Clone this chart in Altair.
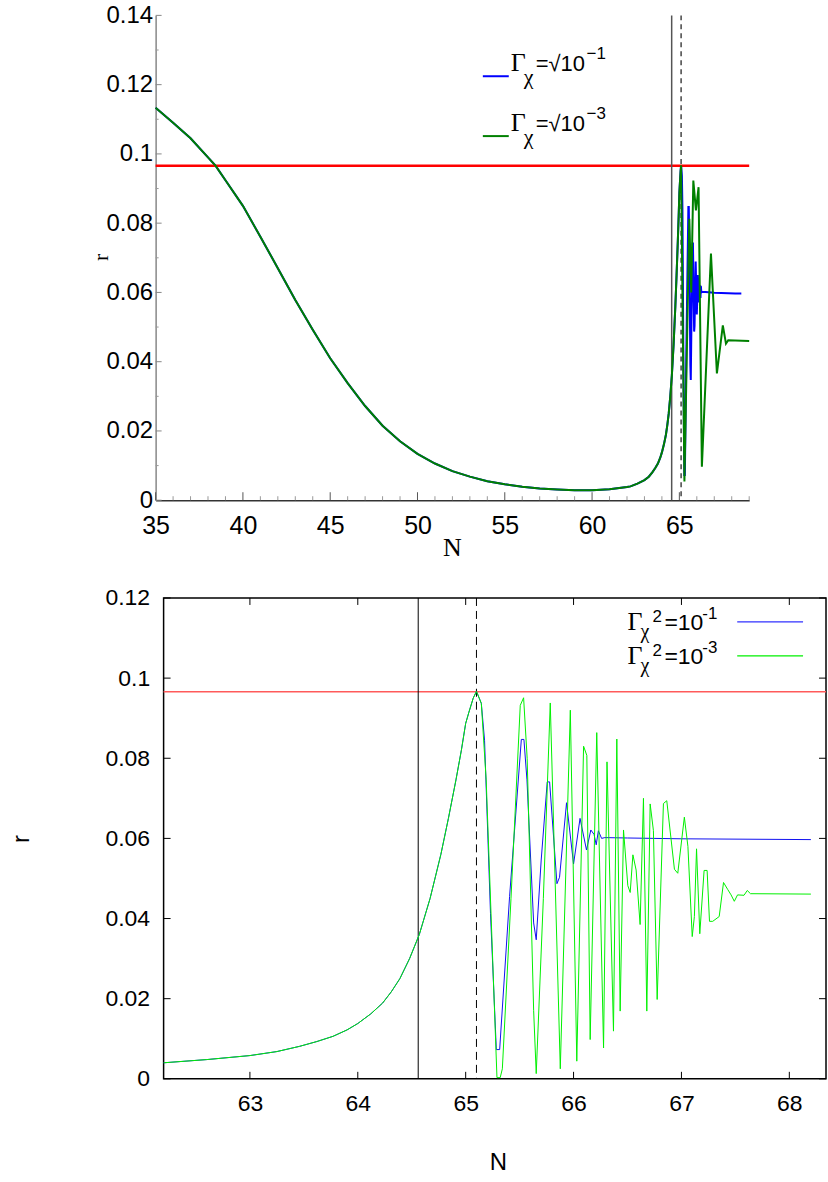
import altair as alt
import pandas as pd

# ---------------- data ----------------
early_N = [35, 36, 37, 38, 38.43, 39, 40, 41, 42, 43, 44, 45, 46, 47, 48, 49, 50,
           51, 52, 53, 54, 55, 56, 57, 58, 59, 60, 61, 62]
early_r = [0.1133, 0.1090, 0.1045, 0.0990, 0.0966, 0.0924, 0.0850, 0.0761, 0.0670,
           0.0578, 0.0492, 0.0410, 0.0338, 0.0272, 0.0215, 0.0170, 0.0134, 0.0106,
           0.0084, 0.0068, 0.0055, 0.0046, 0.0039, 0.0034, 0.0031, 0.0029, 0.0029,
           0.0032, 0.0038]

rise_N = [62.2, 62.6, 63.0, 63.25, 63.46, 63.62, 63.77, 63.9, 64.0, 64.12, 64.23, 64.31,
          64.39, 64.48, 64.57, 64.67, 64.77, 64.84, 64.91, 64.96, 65.0, 65.03, 65.07, 65.1]
rise_r = [0.0040, 0.0048, 0.0058, 0.0068, 0.0081, 0.0093, 0.0106, 0.0122, 0.0138, 0.0162,
          0.0189, 0.0217, 0.0250, 0.0300, 0.0360, 0.0450, 0.0560, 0.0650, 0.0746, 0.0820,
          0.0887, 0.0915, 0.0950, 0.0967]

blue_N = [65.145, 65.175, 65.23, 65.284, 65.315, 65.407, 65.516, 65.54, 65.568, 65.63,
          65.654, 65.70, 65.756, 65.778, 65.846, 65.87, 65.935, 66.0, 66.06, 66.12,
          66.16, 66.19, 66.21, 66.23, 66.26, 66.29, 66.5, 67.0, 68.2]
blue_r = [0.0937, 0.0845, 0.0413, 0.0073, 0.0073, 0.0455, 0.0847, 0.0847, 0.0746, 0.0389,
          0.0347, 0.0546, 0.0741, 0.0741, 0.0487, 0.0503, 0.0689, 0.0536, 0.0650, 0.0571,
          0.0621, 0.0610, 0.0584, 0.0619, 0.0600, 0.0602, 0.0601, 0.0599, 0.0597]

green_N = [65.145, 65.19, 65.29, 65.32, 65.34, 65.42, 65.506, 65.537, 65.57, 65.63,
           65.654, 65.72, 65.784, 65.877, 65.97, 66.03, 66.093, 66.123, 66.154, 66.215,
           66.278, 66.31, 66.37, 66.401, 66.432, 66.463, 66.503, 66.525, 66.55, 66.58,
           66.617, 66.648, 66.679, 66.71, 66.74, 66.775, 66.833, 66.864, 66.935, 66.966,
           67.027, 67.06, 67.1, 67.12, 67.14, 67.17, 67.21, 67.238, 67.26, 67.29,
           67.35, 67.39, 67.43, 67.46, 67.49, 67.52, 67.58, 67.61, 67.64, 68.2]
green_r = [0.0937, 0.0746, 0.0003, 0.0003, 0.0025, 0.0450, 0.0932, 0.0951, 0.0800, 0.0170,
           0.0013, 0.0450, 0.0938, 0.0025, 0.0920, 0.0044, 0.0830, 0.0807, 0.0098, 0.0864,
           0.0077, 0.0791, 0.0119, 0.0848, 0.0169, 0.0621, 0.0482, 0.0465, 0.0559, 0.0521,
           0.0385, 0.0700, 0.0169, 0.0686, 0.0620, 0.0198, 0.0687, 0.0694, 0.0523, 0.0513,
           0.0653, 0.0580, 0.0355, 0.0405, 0.0574, 0.0362, 0.0520, 0.0520, 0.0393, 0.0393,
           0.0405, 0.0490, 0.0472, 0.0459, 0.0443, 0.0459, 0.0458, 0.0470, 0.0462, 0.0461]

# top panel: coarser green run
top_green_N = [65.29, 65.57, 65.68, 65.80, 65.95, 66.10, 66.29, 66.81, 67.15, 67.49,
               67.67, 67.8, 69.0]
top_green_r = [0.0054, 0.0813, 0.0600, 0.0923, 0.0837, 0.0904, 0.0097, 0.0712, 0.0366,
               0.0505, 0.0452, 0.0462, 0.0460]
tail_blue_N, tail_blue_r = 68.55, 0.0597     # top panel only

r_ref = 0.0966
N_solid = 64.56
N_dashed = 65.1

top_y_major = [0, 0.02, 0.04, 0.06, 0.08, 0.10, 0.12, 0.14]
top_y_minor = [0.01, 0.03, 0.05, 0.07, 0.09, 0.11, 0.13]
top_x_major = [35, 40, 45, 50, 55, 60, 65]
top_x_minor = [n for n in range(36, 70) if n % 5 != 0]
bot_y_ticks = [0, 0.02, 0.04, 0.06, 0.08, 0.10, 0.12]
bot_x_ticks = [63, 64, 65, 66, 67, 68]

# ---------------- tables ----------------
top_blue = pd.DataFrame({"N": early_N + rise_N + blue_N + [tail_blue_N],
                         "r": early_r + rise_r + blue_r + [tail_blue_r]})
top_green = pd.DataFrame({"N": early_N + rise_N + top_green_N,
                          "r": early_r + rise_r + top_green_r})
bot_blue = pd.DataFrame({"N": rise_N + blue_N, "r": rise_r + blue_r})
bot_green = pd.DataFrame({"N": rise_N + green_N, "r": rise_r + green_r})
dummy = pd.DataFrame({"N": [0]})

SANS = "Liberation Sans, Arial, sans-serif"
SERIF = "Liberation Serif, Times New Roman, serif"
RFMT = "datum.value == 0 ? '0' : format(datum.value, '.2~f')"


def txt(s, x, y, size, font):
    return alt.Chart(dummy).mark_text(text=s, font=font, fontSize=size, align="left",
                                      baseline="alphabetic", color="black").encode(
        x=alt.value(x), y=alt.value(y))


def seg(x1, x2, y, color, w):
    return alt.Chart(dummy).mark_rule(color=color, strokeWidth=w).encode(
        x=alt.value(x1), x2=alt.value(x2), y=alt.value(y))


# ---------------- top panel ----------------
TW, TH = 595, 486
tx = alt.Scale(domain=[35, 69], range=[-8, TW - 8], nice=False, zero=False)
ty = alt.Scale(domain=[0, 0.14], nice=False)
tx_axis = alt.Axis(
    values=top_x_major, ticks=False, tickSize=0, grid=False, domainColor="#333333",
    domainWidth=1.5, labelFont=SANS, labelFontSize=25, labelColor="black",
    labelPadding=13, labelFlush=False, title="N", titleFont=SERIF, titleFontSize=26,
    titleFontWeight="normal", titleX=289, titleY=47, titleBaseline="middle",
    titleAlign="center", titleColor="black")
ty_axis = alt.Axis(
    values=top_y_major, labelExpr=RFMT, ticks=False, tickSize=0, grid=False,
    domainColor="#888888", domainWidth=1.5, offset=8, labelFont=SANS,
    labelFontSize=24, labelColor="black", labelPadding=3, labelFlush=False,
    title="r", titleFont=SERIF, titleFontSize=22, titleFontWeight="normal",
    titleX=-55, titleY=242, titleBaseline="middle", titleAlign="center",
    titleAngle=270, titleColor="black")
TX = dict(scale=tx, axis=tx_axis)
TY = dict(scale=ty, axis=ty_axis)

t_blue = alt.Chart(top_blue).mark_line(color="#0000ff", strokeWidth=2).encode(
    x=alt.X("N:Q", **TX), y=alt.Y("r:Q", **TY), order="N:Q")
t_green = alt.Chart(top_green).mark_line(color="#008000", strokeWidth=2).encode(
    x=alt.X("N:Q", **TX), y=alt.Y("r:Q", **TY), order="N:Q")
t_red = alt.Chart(dummy).mark_rule(color="#ff0000", strokeWidth=2.5).encode(
    x=alt.datum(35, **TX), x2=alt.datum(69), y=alt.datum(r_ref, **TY))
t_vs = alt.Chart(pd.DataFrame({"N": [N_solid]})).mark_rule(
    color="#555555", strokeWidth=1.5).encode(
    x=alt.X("N:Q", **TX), y=alt.value(0), y2=alt.value(TH))
t_vd = alt.Chart(pd.DataFrame({"N": [N_dashed]})).mark_rule(
    color="#444444", strokeWidth=1.5, strokeDash=[5, 4]).encode(
    x=alt.X("N:Q", **TX), y=alt.value(0), y2=alt.value(TH))

t_ticks = [
    alt.Chart(pd.DataFrame({"r": top_y_major})).mark_rule(color="#888888").encode(
        y=alt.Y("r:Q", **TY), x=alt.value(-8), x2=alt.value(-2)),
    alt.Chart(pd.DataFrame({"r": top_y_minor})).mark_rule(color="#999999").encode(
        y=alt.Y("r:Q", **TY), x=alt.value(-8), x2=alt.value(-5)),
    alt.Chart(pd.DataFrame({"N": top_x_major})).mark_rule(color="#555555").encode(
        x=alt.X("N:Q", **TX), y=alt.value(TH - 8), y2=alt.value(TH)),
    alt.Chart(pd.DataFrame({"N": top_x_minor})).mark_rule(color="#999999").encode(
        x=alt.X("N:Q", **TX), y=alt.value(TH - 4), y2=alt.value(TH)),
]

t_legend = [
    seg(320, 346, 61, "#0000ff", 2),
    txt("Γ", 348, 56, 26, SERIF), txt("χ", 361, 69, 22, SERIF),
    txt("=√10", 373, 56, 22, SANS), txt("−1", 424, 44, 17, SANS),
    seg(320, 346, 121, "#008000", 2),
    txt("Γ", 348, 116, 26, SERIF), txt("χ", 361, 129, 22, SERIF),
    txt("=√10", 373, 116, 22, SANS), txt("−3", 424, 104, 17, SANS),
]

top = alt.layer(t_blue, t_red, t_vs, t_vd, t_green, *t_ticks, *t_legend).properties(
    width=TW, height=TH)

# ---------------- bottom panel ----------------
BW, BH = 664, 482
bx = alt.Scale(domain=[62.2, 68.34], nice=False, zero=False)
by = alt.Scale(domain=[0, 0.12], nice=False)
bx_axis = alt.Axis(
    values=bot_x_ticks, ticks=False, tickSize=0, domain=False, grid=False,
    labelFont=SANS, labelFontSize=23, labelColor="black", labelPadding=14,
    labelFlush=False, title="N", titleFont=SANS, titleFontSize=24,
    titleFontWeight="normal", titleX=335, titleY=84, titleBaseline="middle",
    titleAlign="center", titleColor="black")
by_axis = alt.Axis(
    values=bot_y_ticks, labelExpr=RFMT, ticks=False, tickSize=0, domain=False,
    grid=False, labelFont=SANS, labelFontSize=23, labelColor="black",
    labelPadding=14, labelFlush=False, title="r", titleFont=SANS,
    titleFontSize=24, titleFontWeight="normal", titleX=-142, titleY=241,
    titleBaseline="middle", titleAlign="center", titleAngle=270, titleColor="black")
BX = dict(scale=bx, axis=bx_axis)
BY = dict(scale=by, axis=by_axis)

b_blue = alt.Chart(bot_blue).mark_line(color="#1010f0", strokeWidth=1).encode(
    x=alt.X("N:Q", **BX), y=alt.Y("r:Q", **BY), order="N:Q")
b_green = alt.Chart(bot_green).mark_line(color="#00f000", strokeWidth=1).encode(
    x=alt.X("N:Q", **BX), y=alt.Y("r:Q", **BY), order="N:Q")
b_red = alt.Chart(dummy).mark_rule(color="#ff5a5a", strokeWidth=1.3).encode(
    x=alt.datum(62.2, **BX), x2=alt.datum(68.34), y=alt.datum(r_ref, **BY))
b_vs = alt.Chart(pd.DataFrame({"N": [N_solid]})).mark_rule(
    color="black", strokeWidth=1).encode(
    x=alt.X("N:Q", **BX), y=alt.value(0), y2=alt.value(BH))
b_vd = alt.Chart(pd.DataFrame({"N": [N_dashed]})).mark_rule(
    color="black", strokeWidth=1, strokeDash=[8, 5]).encode(
    x=alt.X("N:Q", **BX), y=alt.value(0), y2=alt.value(BH))

ydf = pd.DataFrame({"r": bot_y_ticks})
xdf = pd.DataFrame({"N": bot_x_ticks})
b_ticks = [
    alt.Chart(ydf).mark_rule(color="black").encode(
        y=alt.Y("r:Q", **BY), x=alt.value(0), x2=alt.value(7)),
    alt.Chart(ydf).mark_rule(color="black").encode(
        y=alt.Y("r:Q", **BY), x=alt.value(BW - 7), x2=alt.value(BW)),
    alt.Chart(xdf).mark_rule(color="black").encode(
        x=alt.X("N:Q", **BX), y=alt.value(BH - 7), y2=alt.value(BH)),
    alt.Chart(xdf).mark_rule(color="black").encode(
        x=alt.X("N:Q", **BX), y=alt.value(0), y2=alt.value(7)),
]

b_legend = [
    txt("Γ", 465, 32, 26, SERIF), txt("χ", 478, 40, 20, SERIF),
    txt("2", 490, 24, 17, SANS), txt("=10", 502, 32, 23, SANS), txt("-1", 540, 21, 17, SANS),
    seg(575, 641, 24, "#3030ff", 1.3),
    txt("Γ", 465, 66, 26, SERIF), txt("χ", 478, 74, 20, SERIF),
    txt("2", 490, 58, 17, SANS), txt("=10", 502, 66, 23, SANS), txt("-3", 540, 55, 17, SANS),
    seg(575, 641, 58, "#00f000", 1.3),
]

bottom = alt.layer(b_red, b_vs, b_vd, b_blue, b_green, *b_ticks, *b_legend).properties(
    width=BW, height=BH, view=alt.ViewBackground(stroke="black", strokeWidth=1.5))

chart = alt.vconcat(top, bottom, spacing=26).properties(
    padding={"left": 9, "top": 2, "right": 0, "bottom": 0},
    background="white",
).configure_view(strokeWidth=0)

chart.save("out.html", embed_options={"renderer": "svg", "actions": False})
